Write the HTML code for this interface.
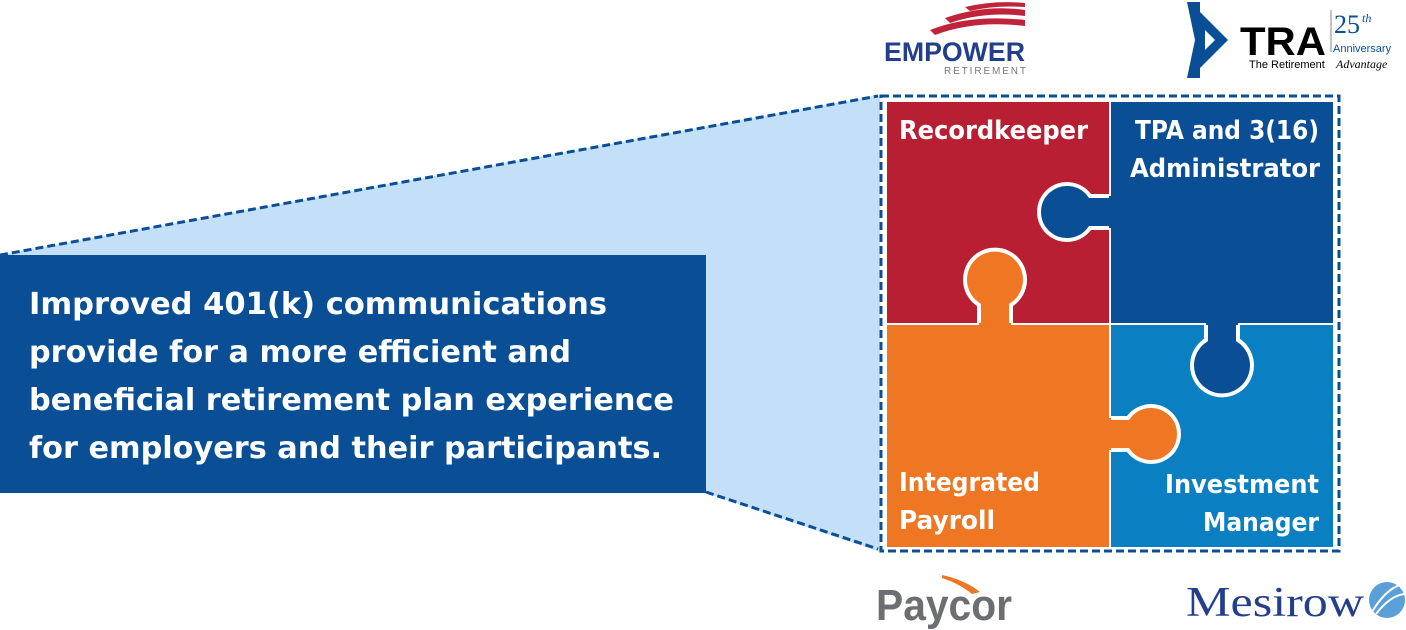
<!DOCTYPE html>
<html><head><style>
html,body{margin:0;padding:0;background:#fff;}
svg{display:block;}
</style></head><body>
<svg width="1406" height="630" viewBox="0 0 1406 630" xmlns="http://www.w3.org/2000/svg">
<!-- wedge -->
<polygon points="0,255 880,95 880,552 706,493 0,493" fill="#c4e0f9"/>
<line x1="0" y1="255" x2="878" y2="96" stroke="#0a4f96" stroke-width="3" stroke-dasharray="8,4"/>
<line x1="706" y1="492" x2="878" y2="549" stroke="#0a4f96" stroke-width="3" stroke-dasharray="8,4"/>
<rect x="0" y="255" width="706" height="238" fill="#0a4f96"/>
<g font-family="'DejaVu Sans','Liberation Sans',sans-serif" font-weight="bold" font-size="30" fill="#fff" lengthAdjust="spacingAndGlyphs">
<text x="29" y="314" textLength="578" lengthAdjust="spacingAndGlyphs">Improved 401(k) communications</text>
<text x="29" y="362" textLength="542" lengthAdjust="spacingAndGlyphs">provide for a more efficient and</text>
<text x="29" y="410" textLength="645" lengthAdjust="spacingAndGlyphs">beneficial retirement plan experience</text>
<text x="29" y="458" textLength="633" lengthAdjust="spacingAndGlyphs">for employers and their participants.</text>
</g>
<!-- puzzle -->
<rect x="881" y="96" width="458" height="455" fill="#fff" stroke="#0a4f96" stroke-width="3" stroke-dasharray="8,4"/>
<rect x="887" y="102" width="222" height="221" fill="#b81f32"/>
<rect x="1111" y="102" width="222" height="221" fill="#0a4f96"/>
<rect x="887" y="325" width="222" height="222" fill="#ef7622"/>
<rect x="1111" y="325" width="222" height="222" fill="#0a80c2"/>
<!-- blue knob into red -->
<path d="M1112,196 L1090,196 A28,28 0 1,0 1090,228 L1112,228 Z" fill="#0a4f96"/>
<path d="M1109,196 L1090,196 A28,28 0 1,0 1090,228 L1109,228" fill="none" stroke="#fff" stroke-width="4"/>
<!-- orange knob into red -->
<path d="M979,326 L979,305 A30,30 0 1,1 1011,305 L1011,326 Z" fill="#ef7622"/>
<path d="M979,323 L979,305 A30,30 0 1,1 1011,305 L1011,323" fill="none" stroke="#fff" stroke-width="4"/>
<!-- blue knob down -->
<path d="M1206,322 L1206,340 A30,30 0 1,0 1238,340 L1238,322 Z" fill="#0a4f96"/>
<path d="M1206,325 L1206,340 A30,30 0 1,0 1238,340 L1238,325" fill="none" stroke="#fff" stroke-width="4"/>
<!-- orange knob right -->
<path d="M1108,418 L1128,418 A28,28 0 1,1 1128,450 L1108,450 Z" fill="#ef7622"/>
<path d="M1111,418 L1128,418 A28,28 0 1,1 1128,450 L1111,450" fill="none" stroke="#fff" stroke-width="4"/>
<g font-family="'DejaVu Sans','Liberation Sans',sans-serif" font-weight="bold" font-size="26" fill="#fff">
<text x="899" y="139" textLength="189" lengthAdjust="spacingAndGlyphs">Recordkeeper</text>
<text x="1135" y="139" textLength="184" lengthAdjust="spacingAndGlyphs">TPA and 3(16)</text>
<text x="1130" y="177" textLength="190" lengthAdjust="spacingAndGlyphs">Administrator</text>
<text x="899" y="491" textLength="141" lengthAdjust="spacingAndGlyphs">Integrated</text>
<text x="899" y="529" textLength="96" lengthAdjust="spacingAndGlyphs">Payroll</text>
<text x="1165" y="493" textLength="154" lengthAdjust="spacingAndGlyphs">Investment</text>
<text x="1203" y="531" textLength="116" lengthAdjust="spacingAndGlyphs">Manager</text>
</g>
<!-- Empower logo -->
<g fill="#c0243a">
<path d="M930,30 Q970,14 1025,20 L1025,26 Q975,20 935,35 Z"/>
<path d="M945,18 Q985,4 1025,10 L1025,16 Q985,11 950,23 Z"/>
<path d="M965,7 Q995,0 1025,3 L1025,7 Q995,5 970,11 Z"/>
</g>
<text x="884" y="61" font-family="'Liberation Sans',sans-serif" font-weight="bold" font-size="27" fill="#233e8b" textLength="141" lengthAdjust="spacingAndGlyphs">EMPOWER</text>
<text x="944" y="74" font-family="'Liberation Sans',sans-serif" font-size="10" fill="#777" textLength="82">RETIREMENT</text>
<!-- TRA logo -->
<polygon points="1187,2 1200,2 1200,78 1187,78 1195,40" fill="#0a4f96"/>
<polygon points="1200,12 1228,40 1200,68" fill="#0a4f96"/>
<polygon points="1205,30 1215,40 1205,50" fill="#fff"/>
<text x="1240" y="55" font-family="'Liberation Sans',sans-serif" font-weight="bold" font-size="40" fill="#000" textLength="86" lengthAdjust="spacingAndGlyphs">TRA</text>
<line x1="1331" y1="10" x2="1331" y2="52" stroke="#888" stroke-width="1"/>
<text x="1334" y="33" font-family="'Liberation Serif',serif" font-size="26" fill="#0a4f96">25</text>
<text x="1362" y="22" font-family="'Liberation Serif',serif" font-style="italic" font-size="12" fill="#0a4f96">th</text>
<text x="1333" y="52" font-family="'Liberation Sans',sans-serif" font-size="11" fill="#0a4f96">Anniversary</text>
<text x="1249" y="68" font-family="'Liberation Sans',sans-serif" font-size="11" fill="#000">The Retirement</text>
<text x="1336" y="68" font-family="'Liberation Serif',serif" font-style="italic" font-size="12" fill="#000">Advantage</text>
<!-- Paycor -->
<path d="M942,575 Q965,580 980,592 L972,594 Q960,584 942,578 Z" fill="#ef7622"/>
<text x="876" y="620" font-family="'Liberation Sans',sans-serif" font-weight="bold" font-size="44" fill="#6d6e71" textLength="136" lengthAdjust="spacingAndGlyphs">Paycor</text>
<!-- Mesirow -->
<text x="1186" y="616" font-family="'Liberation Serif',serif" font-size="42" fill="#233e8b" textLength="178" lengthAdjust="spacingAndGlyphs">Mesirow</text>
<circle cx="1387" cy="600" r="18" fill="#5aa0d8"/>
<path d="M1372,612 Q1385,590 1400,585" stroke="#fff" stroke-width="2" fill="none"/>
<path d="M1376,614 Q1390,596 1404,594" stroke="#fff" stroke-width="2" fill="none"/>
</svg>
</body></html>
